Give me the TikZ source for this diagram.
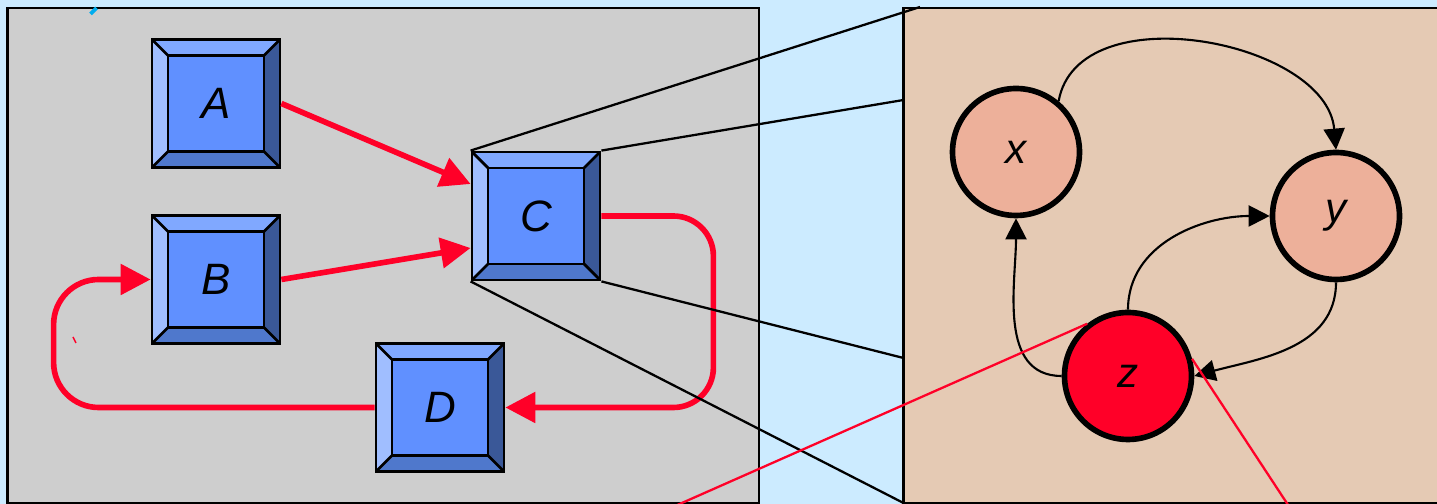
\documentclass[tikz,border=0pt]{standalone}
\usepackage{fontspec}
\setmainfont{Liberation Sans}
\usetikzlibrary{arrows.meta}
\definecolor{sky}{HTML}{CCEBFF}
\definecolor{panelgray}{HTML}{CECECE}
\definecolor{panelsand}{HTML}{E5CAB4}
\definecolor{keyface}{HTML}{6090FF}
\definecolor{keytop}{HTML}{80A8FF}
\definecolor{keyleft}{HTML}{A0BEFF}
\definecolor{keyright}{HTML}{3A5898}
\definecolor{keybottom}{HTML}{4F78CC}
\definecolor{statefill}{HTML}{EDB09A}
\definecolor{flowred}{HTML}{FF0028}
\tikzset{
  keycap/.style={draw=black, line width=1.6pt, fill=keyface, minimum size=2.56cm, inner sep=0pt,
    font=\itshape\fontsize{25}{25}\selectfont,
    path picture={
      \coordinate (knw) at (path picture bounding box.north west);
      \coordinate (kne) at (path picture bounding box.north east);
      \coordinate (ksw) at (path picture bounding box.south west);
      \coordinate (kse) at (path picture bounding box.south east);
      \fill[keytop] (knw) -- (kne) -- ([shift={(-0.32,-0.32)}]kne) -- ([shift={(0.32,-0.32)}]knw) -- cycle;
      \fill[keyleft] (knw) -- ([shift={(0.32,-0.32)}]knw) -- ([shift={(0.32,0.32)}]ksw) -- (ksw) -- cycle;
      \fill[keyright] (kne) -- (kse) -- ([shift={(-0.32,0.32)}]kse) -- ([shift={(-0.32,-0.32)}]kne) -- cycle;
      \fill[keybottom] (ksw) -- (kse) -- ([shift={(-0.32,0.32)}]kse) -- ([shift={(0.32,0.32)}]ksw) -- cycle;
      \draw[line width=1.6pt] ([shift={(0.32,-0.32)}]knw) rectangle ([shift={(-0.32,0.32)}]kse);
      \draw[line width=1.6pt] (knw) -- ++(0.32,-0.32) (kne) -- ++(-0.32,-0.32)
        (ksw) -- ++(0.32,0.32) (kse) -- ++(-0.32,0.32);
    }},
  state/.style={circle, draw=black, line width=3.2pt, fill=statefill, minimum size=2.54cm, inner sep=0pt,
    font=\itshape\fontsize{24}{24}\selectfont},
  flow/.style={flowred, line width=3.2pt, -{Triangle[length=17pt,width=17pt]}},
  link/.style={black, line width=1.2pt, -{Triangle[length=12pt,width=12pt]}},
  zoomline/.style={black, line width=1.3pt},
  redline/.style={flowred, line width=1.3pt}
}
\begin{document}
\begin{tikzpicture}
\useasboundingbox (0,0) rectangle (28.74,10.08);
\fill[sky] (0,0) rectangle (28.74,10.08);
\clip (0,0) rectangle (28.74,10.08);
\filldraw[fill=panelgray, draw=black, line width=1.3pt] (0.15,0.02) rectangle (15.18,9.92);
\filldraw[fill=panelsand, draw=black, line width=1.3pt] (18.07,0.02) rectangle (29.2,9.92);
\draw[cyan, line width=2.2pt] (1.81,9.8) -- (1.93,9.92);
\draw[flowred, line width=0.8pt] (1.46,3.34) -- (1.52,3.22);

\node[keycap] (A) at (4.32,8.01) {A};
\node[keycap] (B) at (4.32,4.49) {B};
\node[keycap] (C) at (10.72,5.76) {C};
\node[keycap] (D) at (8.80,1.93) {D};

\draw[flow] (A.east) -- ([yshift=0.64cm]C.west);
\draw[flow] (B.east) -- ([yshift=-0.64cm]C.west);
\draw[flow, rounded corners=0.8cm] (C.east) -- ++(2.24,0) |- (D.east);
\draw[flow, rounded corners=0.9cm] (D.west) -| ([xshift=-1.94cm]B.west) -- (B.west);

\coordinate (p1) at (18.4,9.94);
\coordinate (p2) at (18.07,8.08);
\coordinate (p3) at (18.07,2.92);
\coordinate (p4) at (18.07,0.02);
\draw[zoomline] (C.north west) -- (p1);
\draw[zoomline] (C.north east) -- (p2);
\draw[zoomline] (C.south east) -- (p3);
\draw[zoomline] (C.south west) -- (p4);

\node[state] (x) at (20.32,7.04) {x};
\node[state] (y) at (26.72,5.76) {y};
\node[state, fill=flowred] (z) at (22.56,2.56) {z};

\draw[link] (x.50) to[out=80,in=95] (y.north);
\draw[link] (z.north) to[out=90,in=180] (y.west);
\draw[link] (y.south) to[out=-90,in=15] (z.east);
\draw[link] (z.west) to[out=180,in=-90] (x.south);

\coordinate (r1) at (13.14,-0.2);
\coordinate (r2) at (25.88,-0.2);
\draw[redline] (z.128) -- (r1);
\draw[redline] (z.15) -- (r2);
\end{tikzpicture}
\end{document}
